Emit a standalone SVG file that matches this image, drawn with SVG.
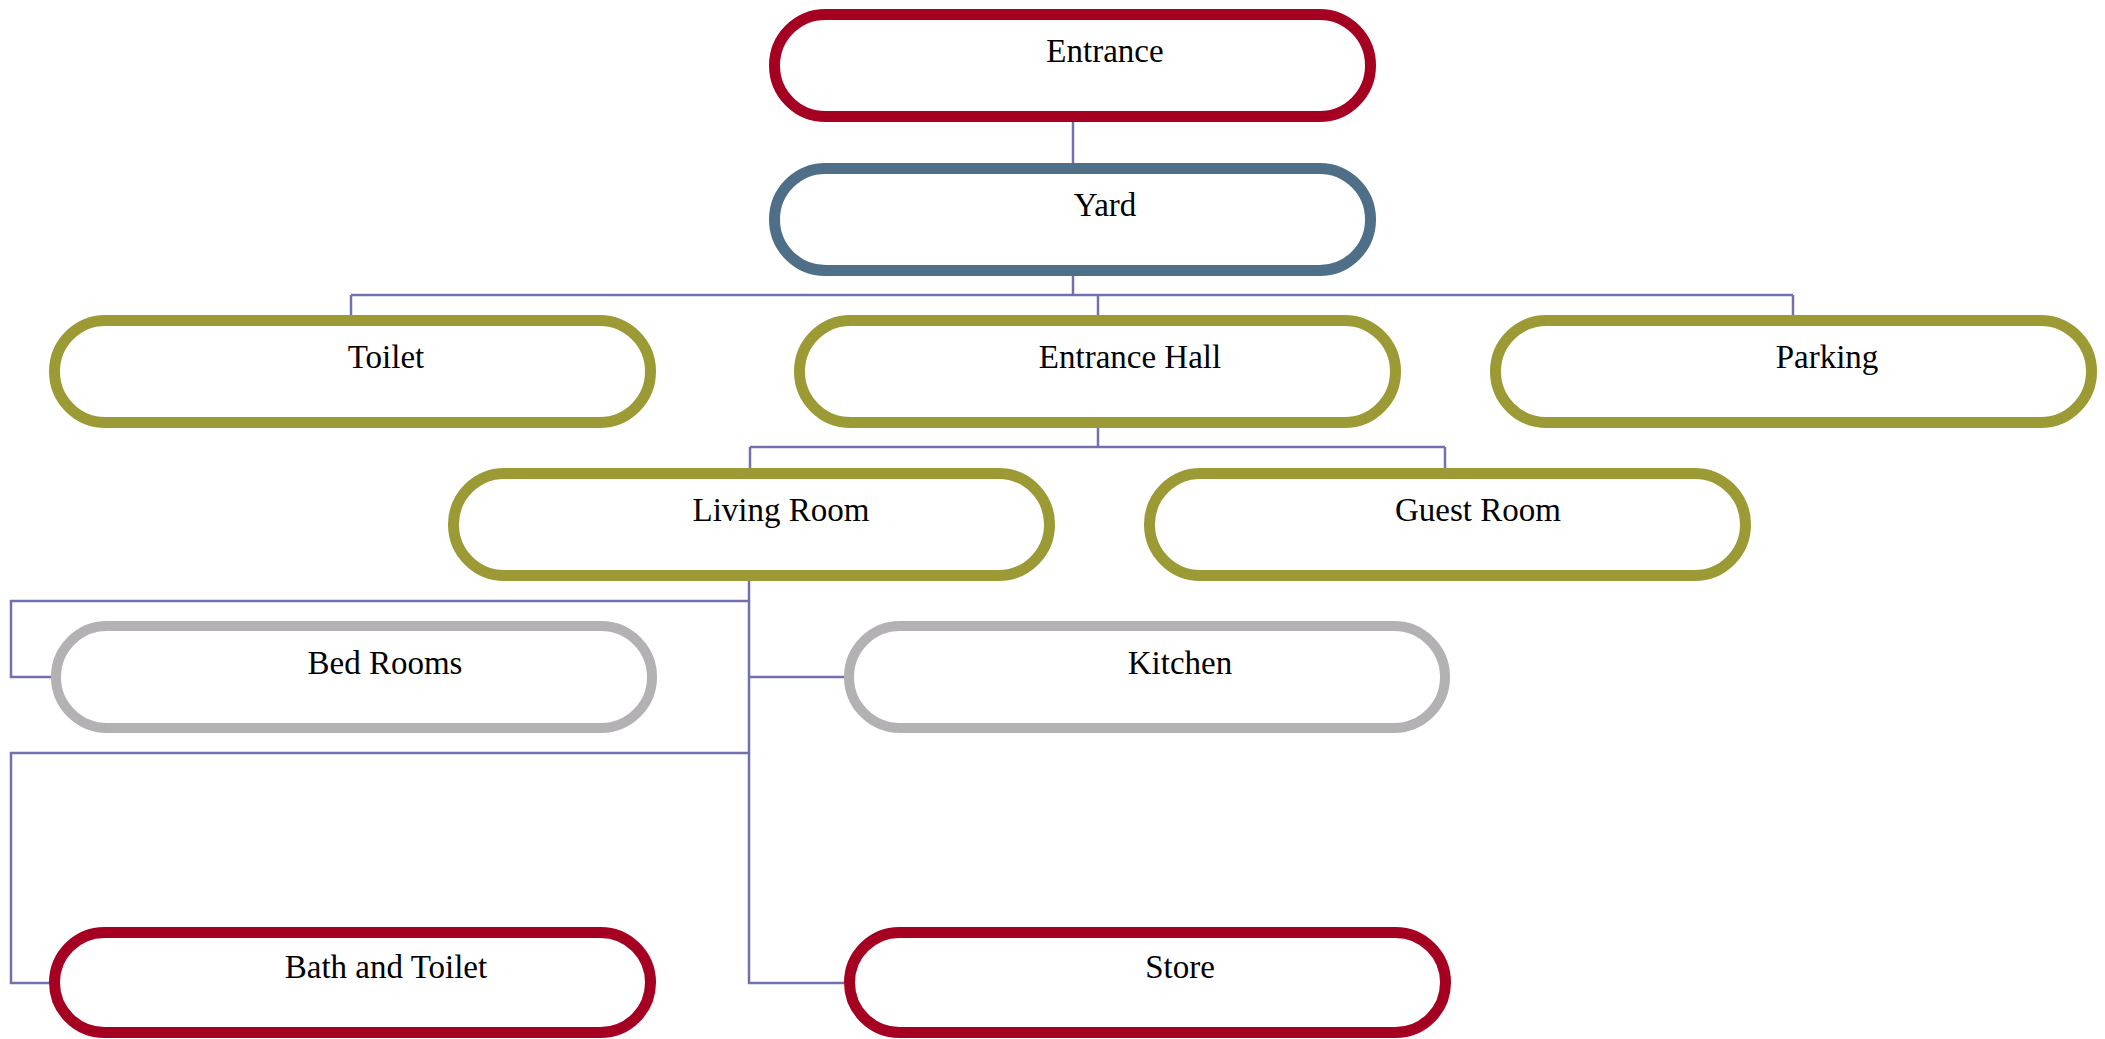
<svg xmlns="http://www.w3.org/2000/svg" width="2105" height="1039" viewBox="0 0 2105 1039">
<style>
  .box { fill: #ffffff; stroke-width: 11; }
  .red { stroke: #A50021; }
  .blue { stroke: #4F6E87; }
  .olive { stroke: #9C9A34; }
  .gray { stroke: #B3B1B3; stroke-width: 10; }
  .lbl { font-family: "Liberation Serif", "Times New Roman", serif; font-size: 33px; fill: #000; text-anchor: middle; }
  .conn { fill: none; stroke: #7271AE; stroke-width: 2.5; }
</style>
<rect width="2105" height="1039" fill="#ffffff"/>
<g id="connectors" class="conn">
  <path d="M1073 122 V163"/>
  <path d="M1073 275 V295"/>
  <path d="M351 295 H1793"/>
  <path d="M351 295 V315"/>
  <path d="M1098 295 V315"/>
  <path d="M1793 295 V315"/>
  <path d="M1098 427 V447"/>
  <path d="M750 447 H1445"/>
  <path d="M750 447 V468"/>
  <path d="M1445 447 V468"/>
  <path d="M749 580 V983 H844"/>
  <path d="M749 601 H11 V677 H51"/>
  <path d="M749 677 H844"/>
  <path d="M749 753 H11 V983 H49"/>
</g>
<g id="entrance"><rect class="box red" x="774.5" y="14.5" width="596" height="102" rx="51"/><text class="lbl" x="1105" y="62">Entrance</text></g>
<g id="yard"><rect class="box blue" x="774.5" y="168.5" width="596" height="102" rx="51"/><text class="lbl" x="1105" y="216">Yard</text></g>
<g id="toilet"><rect class="box olive" x="54.5" y="320.5" width="596" height="102" rx="51"/><text class="lbl" x="386" y="368">Toilet</text></g>
<g id="entrance-hall"><rect class="box olive" x="799.5" y="320.5" width="596" height="102" rx="51"/><text class="lbl" x="1130" y="368">Entrance Hall</text></g>
<g id="parking"><rect class="box olive" x="1495.5" y="320.5" width="596" height="102" rx="51"/><text class="lbl" x="1827" y="368">Parking</text></g>
<g id="living-room"><rect class="box olive" x="453.5" y="473.5" width="596" height="102" rx="51"/><text class="lbl" x="781" y="521">Living Room</text></g>
<g id="guest-room"><rect class="box olive" x="1149.5" y="473.5" width="596" height="102" rx="51"/><text class="lbl" x="1478" y="521">Guest Room</text></g>
<g id="bed-rooms"><rect class="box gray" x="56" y="626" width="596" height="102" rx="51"/><text class="lbl" x="385" y="674">Bed Rooms</text></g>
<g id="kitchen"><rect class="box gray" x="849" y="626" width="596" height="102" rx="51"/><text class="lbl" x="1180" y="674">Kitchen</text></g>
<g id="bath-toilet"><rect class="box red" x="54.5" y="932.5" width="596" height="100" rx="50"/><text class="lbl" x="386" y="978">Bath and Toilet</text></g>
<g id="store"><rect class="box red" x="849.5" y="932.5" width="596" height="100" rx="50"/><text class="lbl" x="1180" y="978">Store</text></g>
</svg>
